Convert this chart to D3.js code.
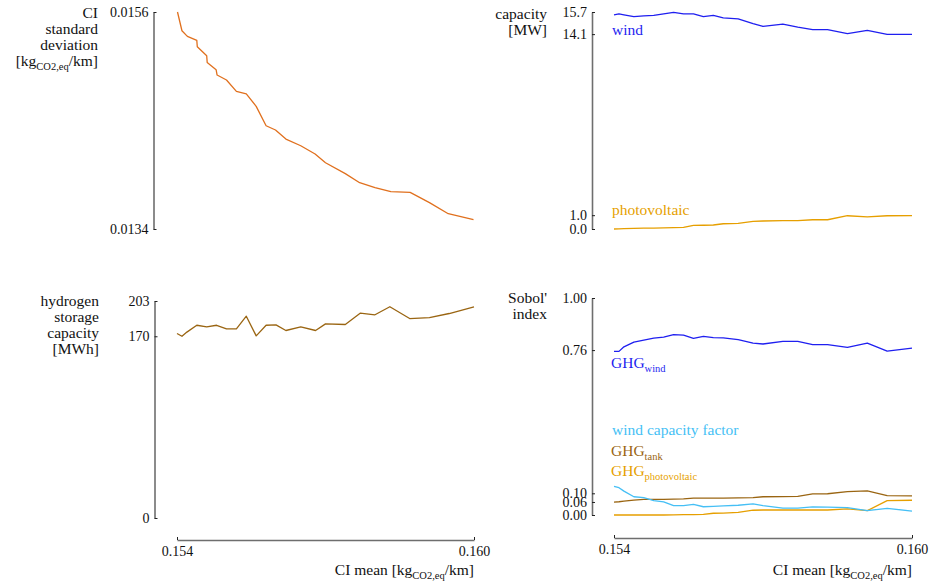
<!DOCTYPE html>
<html>
<head>
<meta charset="utf-8">
<script src="https://cdn.jsdelivr.net/npm/d3@7"></script>
<style>
  html, body { margin: 0; padding: 0; background: #fff; }
  svg text { font-family: "Liberation Serif", "Times New Roman", Times, "DejaVu Serif", serif; }
</style>
</head>
<body>
<svg id="chart" width="929" height="582"></svg>
<script>
// CI mean values shared by the capacity, storage and Sobol' panels
const ciMean = [0.1540, 0.1541, 0.1542, 0.1544, 0.1546, 0.1548, 0.1550, 0.1552,
  0.1554, 0.1556, 0.1558, 0.1560, 0.1562, 0.1565, 0.1568, 0.1570, 0.1574,
  0.1577, 0.1580, 0.1583, 0.1587, 0.1591, 0.1595, 0.1600];

// CI standard deviation against CI mean
const stdMean = [0.15401, 0.15410, 0.15421, 0.15440, 0.15441, 0.15460, 0.15461,
  0.15479, 0.15481, 0.15500, 0.15520, 0.15540, 0.15560, 0.15580, 0.15599,
  0.15620, 0.15650, 0.15679, 0.15700, 0.15740, 0.15769, 0.15800, 0.15832,
  0.15871, 0.15910, 0.15948, 0.15999];
const ciStd = [0.01560, 0.015410, 0.015353, 0.015312, 0.015248, 0.015157, 0.015089,
  0.015015, 0.014961, 0.014911, 0.014795, 0.014769, 0.014643, 0.014447, 0.014404,
  0.014312, 0.014244, 0.014160, 0.014072, 0.013961, 0.013869, 0.013819, 0.013778,
  0.013771, 0.013667, 0.013555, 0.013494];

// installed capacities [MW]
const windCap = [15.50, 15.57, 15.50, 15.36, 15.42, 15.46, 15.57, 15.67, 15.56, 15.56,
  15.36, 15.46, 15.27, 15.20, 14.86, 14.66, 14.83, 14.60, 14.42, 14.42, 14.13,
  14.37, 14.08, 14.08];
const pvCap = [0.00, 0.01, 0.02, 0.04, 0.06, 0.07, 0.08, 0.10, 0.12, 0.26, 0.27, 0.29,
  0.38, 0.41, 0.55, 0.58, 0.60, 0.60, 0.67, 0.67, 0.96, 0.87, 0.96, 0.97];

// hydrogen storage capacity [MWh]
const h2Cap = [172.6, 170.0, 173.9, 180.3, 178.8, 180.3, 177.0, 177.0, 188.8, 170.4,
  180.3, 180.7, 175.4, 178.8, 175.4, 181.6, 181.0, 191.6, 190.1, 197.6, 186.6,
  187.5, 191.3, 197.6];

// Sobol' indices
const sobolGhgWind = [0.754, 0.754, 0.775, 0.797, 0.806, 0.815, 0.820, 0.831, 0.829,
  0.814, 0.823, 0.817, 0.816, 0.808, 0.792, 0.788, 0.800, 0.800, 0.785, 0.785,
  0.772, 0.792, 0.755, 0.769];
const sobolWindCf = [0.132, 0.126, 0.110, 0.084, 0.080, 0.066, 0.060, 0.043, 0.043,
  0.049, 0.038, 0.040, 0.042, 0.045, 0.051, 0.043, 0.032, 0.032, 0.037, 0.036,
  0.034, 0.020, 0.031, 0.018];
const sobolGhgTank = [0.059, 0.061, 0.064, 0.069, 0.072, 0.072, 0.072, 0.073, 0.074,
  0.078, 0.078, 0.078, 0.078, 0.079, 0.080, 0.084, 0.085, 0.086, 0.097, 0.098,
  0.108, 0.111, 0.089, 0.088];
const sobolGhgPv = [0.000, 0.000, 0.000, 0.000, 0.000, 0.000, 0.000, 0.001, 0.002,
  0.002, 0.003, 0.008, 0.009, 0.012, 0.022, 0.023, 0.023, 0.023, 0.023, 0.023,
  0.028, 0.020, 0.066, 0.068];

// tick labels
const xTicks = [0.154, 0.160];
const stdTicks = [0.0134, 0.0156];
const capTicks = [0.0, 1.0, 14.1, 15.7];
const h2Ticks = [0, 170, 203];
const sobolTicks = [0.00, 0.06, 0.10, 0.76, 1.00];

const FONT = "'Liberation Serif', 'Times New Roman', Times, 'DejaVu Serif', serif";
const svg = d3.select("#chart");
const C = {
  std: "#e0701e", wind: "#1f1ff0", pv: "#e69f00",
  h2: "#9a6512", windCf: "#45bff5", tank: "#9a6512", axis: "#6e6e6e", text: "#111"
};

const xL = d3.scaleLinear().domain([0.154, 0.160]).range([177, 474]);
const xR = d3.scaleLinear().domain([0.154, 0.160]).range([614, 912]);
const yStd = d3.scaleLinear().domain([0.0134, 0.0156]).range([229, 12]);
const yH2 = d3.scaleLinear().domain([0, 203]).range([518, 301]);
const yCap = d3.scaleLinear().domain([0, 15.7]).range([229, 12]);
const ySob = d3.scaleLinear().domain([0, 1]).range([515, 298]);

function styleAxis(g) {
  g.attr("font-family", FONT).attr("font-size", 14);
  g.select(".domain").attr("stroke", C.axis).attr("stroke-width", 1.6);
  g.selectAll(".tick line").attr("stroke", "#222").attr("stroke-width", 1);
  g.selectAll(".tick text").attr("fill", C.text);
}

function yAxis(x, scale, ticks, fmt) {
  svg.append("g").attr("transform", `translate(${x},0)`)
    .call(d3.axisLeft(scale).tickValues(ticks).tickFormat(fmt)
      .tickSizeInner(-3).tickSizeOuter(0).tickPadding(5))
    .call(styleAxis);
}
function xAxis(y, scale) {
  svg.append("g").attr("transform", `translate(0,${y})`)
    .call(d3.axisBottom(scale).tickValues(xTicks).tickFormat(d3.format(".3f"))
      .tickSizeInner(-3).tickSizeOuter(0).tickPadding(6))
    .call(styleAxis);
}

yAxis(153.5, yStd, stdTicks, d3.format(".4f"));
yAxis(154.5, yH2, h2Ticks, d3.format("d"));
yAxis(592, yCap, capTicks, d3.format(".1f"));
yAxis(592, ySob, sobolTicks, d3.format(".2f"));
xAxis(540, xL);
xAxis(538, xR);

function drawLine(xs, ys, xScale, yScale, color) {
  const pts = xs.map((d, i) => [d, ys[i]]);
  svg.append("path").datum(pts)
    .attr("fill", "none").attr("stroke", color).attr("stroke-width", 1.3)
    .attr("stroke-linejoin", "round")
    .attr("d", d3.line().x(d => xScale(d[0])).y(d => yScale(d[1])));
}

drawLine(stdMean, ciStd, xL, yStd, C.std);
drawLine(ciMean, h2Cap, xL, yH2, C.h2);
drawLine(ciMean, windCap, xR, yCap, C.wind);
drawLine(ciMean, pvCap, xR, yCap, C.pv);
drawLine(ciMean, sobolGhgPv, xR, ySob, C.pv);
drawLine(ciMean, sobolGhgTank, xR, ySob, C.tank);
drawLine(ciMean, sobolWindCf, xR, ySob, C.windCf);
drawLine(ciMean, sobolGhgWind, xR, ySob, C.wind);

// text helper: parts are [text, isSubscript]
function label(x, y, parts, opts = {}) {
  const t = svg.append("text").attr("x", x).attr("y", y)
    .attr("text-anchor", opts.anchor || "start")
    .attr("fill", opts.color || C.text)
    .attr("font-family", FONT)
    .attr("font-size", opts.size || 15.5);
  let sub = false;
  parts.forEach(([s, isSub]) => {
    const ts = t.append("tspan").text(s);
    if (isSub && !sub) ts.attr("dy", 4).attr("font-size", 10.5);
    else if (!isSub && sub) ts.attr("dy", -4);
    sub = isSub;
  });
  return t;
}

const unitCI = [["[kg", false], ["CO2,eq", true], ["/km]", false]];

// axis titles
label(98, 18, [["CI", false]], { anchor: "end" });
label(98, 34, [["standard", false]], { anchor: "end" });
label(98, 50, [["deviation", false]], { anchor: "end" });
label(98, 66, unitCI, { anchor: "end" });

label(99, 306, [["hydrogen", false]], { anchor: "end" });
label(99, 322, [["storage", false]], { anchor: "end" });
label(99, 338, [["capacity", false]], { anchor: "end" });
label(99, 354, [["[MWh]", false]], { anchor: "end" });

label(547, 19, [["capacity", false]], { anchor: "end" });
label(547, 35, [["[MW]", false]], { anchor: "end" });

label(547, 303, [["Sobol'", false]], { anchor: "end" });
label(547, 319, [["index", false]], { anchor: "end" });

label(474, 575, [["CI mean ", false], ...unitCI], { anchor: "end" });
label(912, 575, [["CI mean ", false], ...unitCI], { anchor: "end" });

// series labels
label(612, 35, [["wind", false]], { color: C.wind });
label(612, 215, [["photovoltaic", false]], { color: C.pv });
label(611, 368, [["GHG", false], ["wind", true]], { color: C.wind });
label(612, 435, [["wind capacity factor", false]], { color: C.windCf });
label(611, 456, [["GHG", false], ["tank", true]], { color: C.tank });
label(611, 476, [["GHG", false], ["photovoltaic", true]], { color: C.pv });
</script>
</body>
</html>
